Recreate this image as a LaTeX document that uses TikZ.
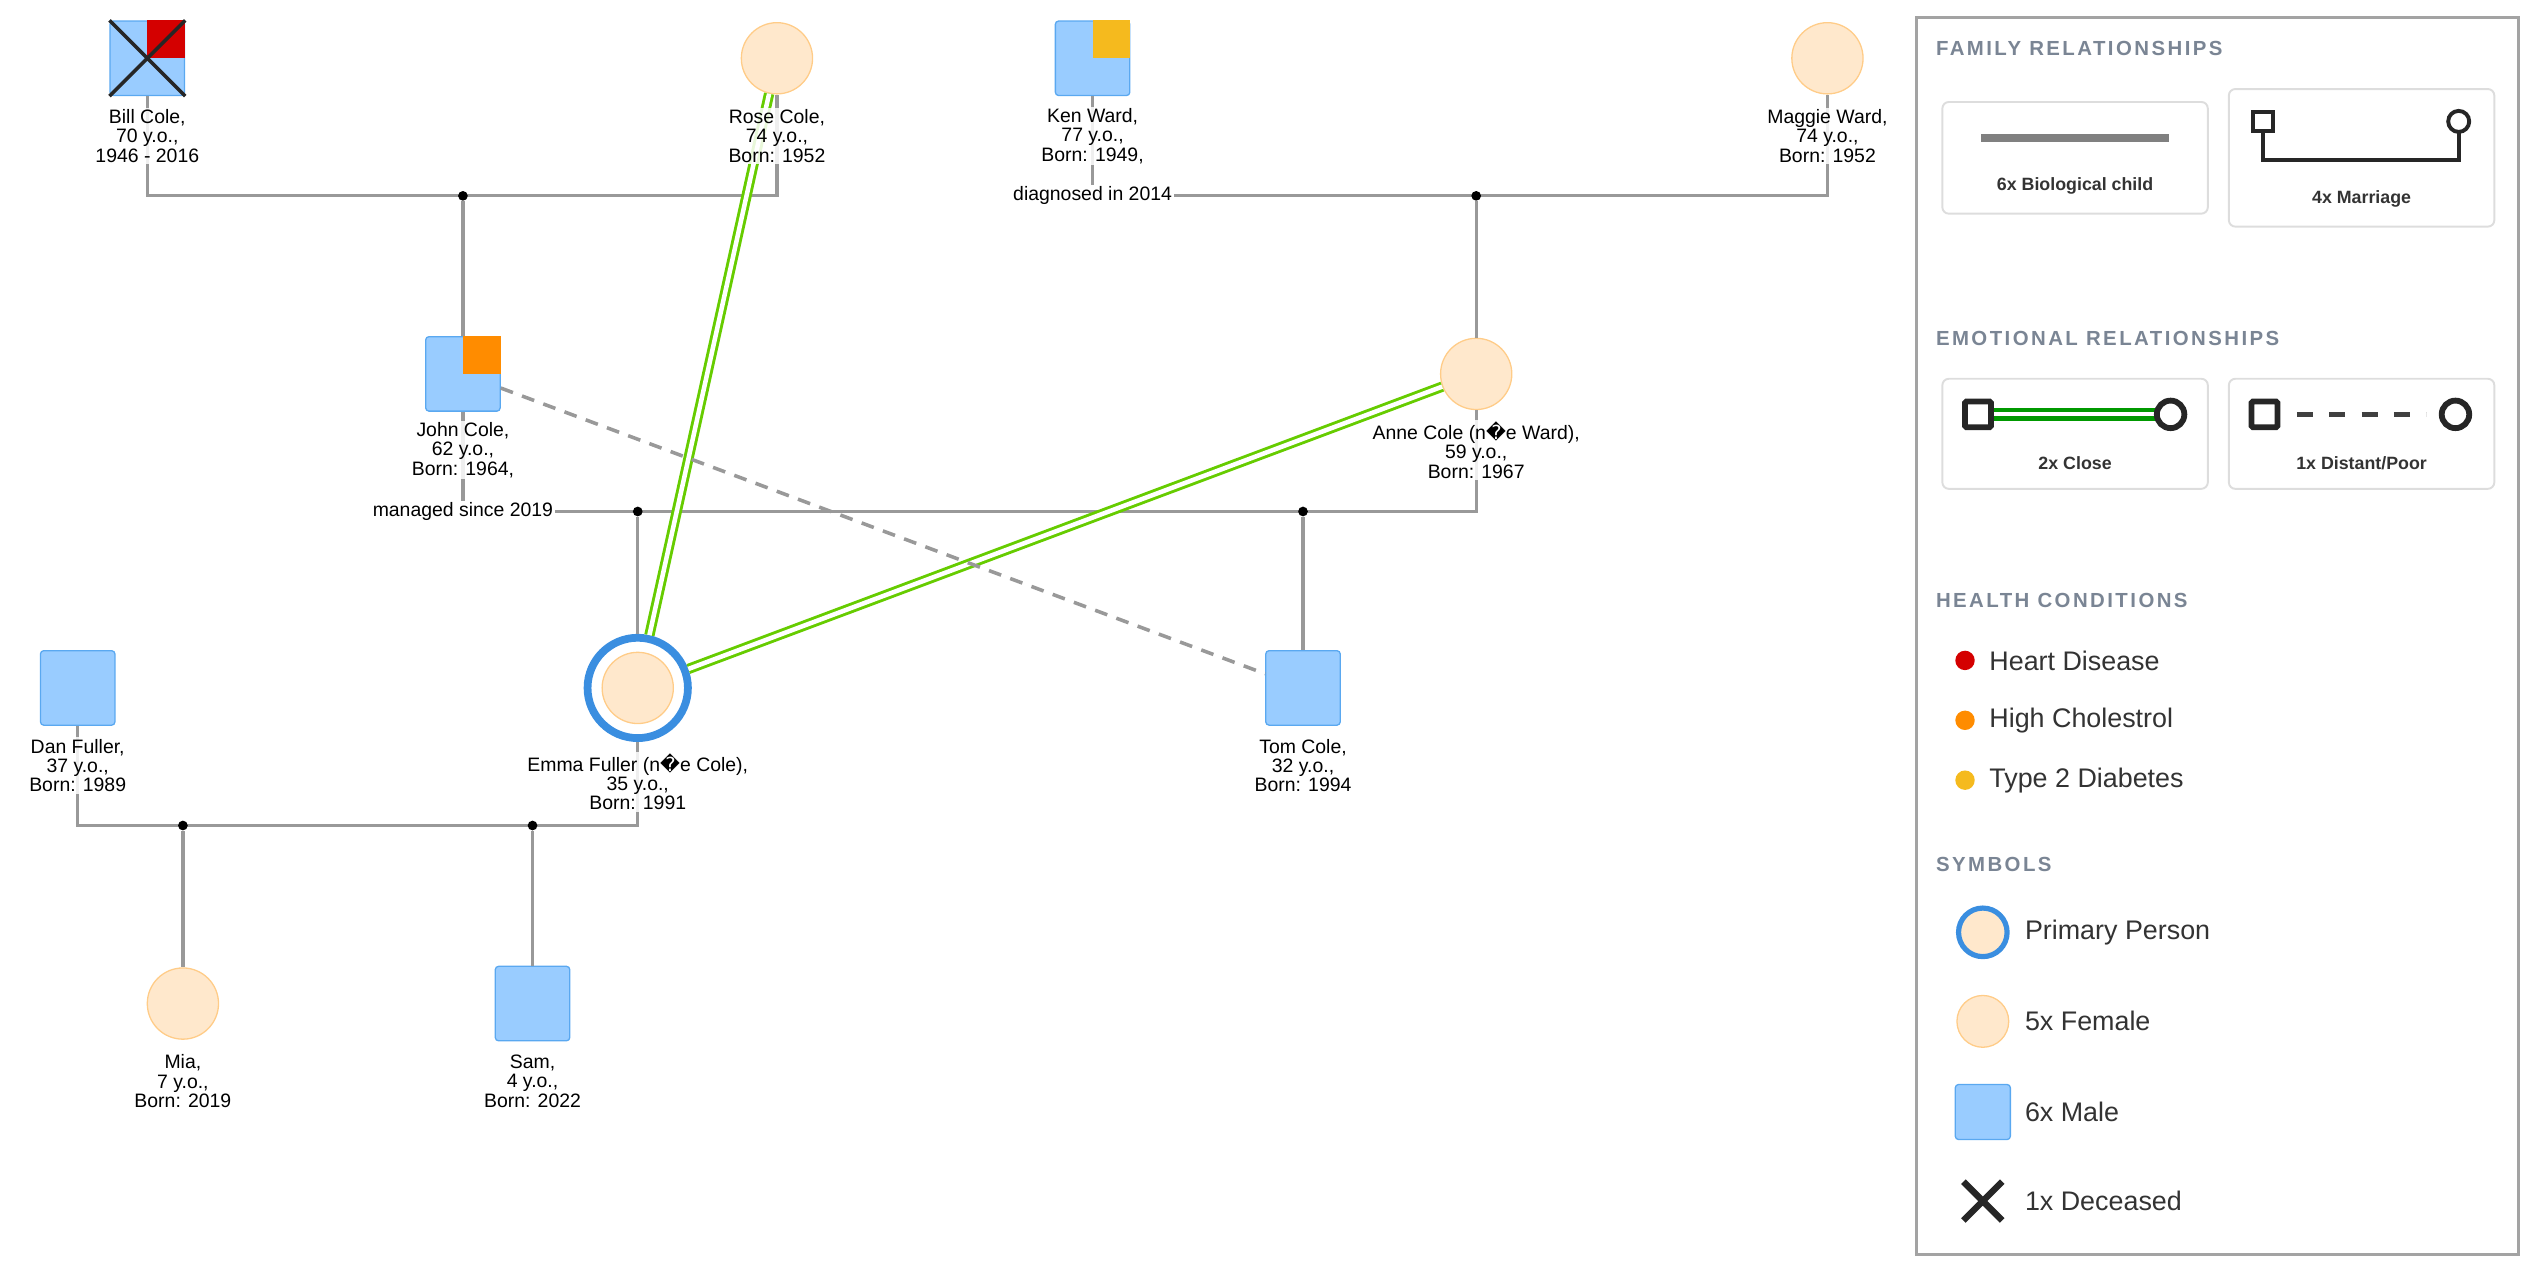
\documentclass[tikz,border=0pt]{standalone}
\usepackage{fontspec}
\setmainfont{Liberation Sans}
\newfontfamily\djv{DejaVu Sans}
\newfontfamily\hdrfont[LetterSpace=12]{Liberation Sans}
\definecolor{mblue}{HTML}{99CCFF}
\definecolor{mbord}{HTML}{5AA8F0}
\definecolor{fpeach}{HTML}{FFE8CC}
\definecolor{fbord}{HTML}{FFCC88}
\definecolor{lgray}{HTML}{999999}
\definecolor{cgreen}{HTML}{66CC00}
\definecolor{hdr}{HTML}{7A8594}
\definecolor{cardb}{HTML}{DDDDDD}
\definecolor{ring}{HTML}{3A8EE0}
\definecolor{hred}{HTML}{D40000}
\definecolor{horange}{HTML}{FF8C00}
\definecolor{hyellow}{HTML}{F5BA1E}
\begin{document}
\begin{tikzpicture}[x=0.5pt,y=-0.5pt,
  male/.style={draw=mbord,fill=mblue,minimum size=23pt,inner sep=0pt,rounded corners=1pt,line width=0.4pt},
  female/.style={circle,draw=fbord,fill=fpeach,minimum size=22pt,inner sep=0pt,line width=0.4pt},
  lbl/.style={align=center,font=\fontsize{6}{6}\selectfont,inner sep=0.5pt,fill=white,fill opacity=0.85,text opacity=1},
  marr/.style={draw=lgray,line width=1pt},
  dot/.style={circle,fill=black,inner sep=0pt,minimum size=3pt},
  close/.style={double=white,draw=cgreen,line width=0.9pt,double distance=1.4pt},
  card/.style={draw=cardb,rounded corners=2pt,line width=0.6pt},
  hd/.style={anchor=west,text=hdr,font=\hdrfont\fontsize{6.3}{6}\selectfont\bfseries},
  ct/.style={font=\fontsize{5.5}{6}\selectfont\bfseries,text=black!80},
  it/.style={anchor=west,font=\fontsize{8.3}{9}\selectfont,text=black!80}]
\useasboundingbox (0,0) rectangle (1568,788);
% people
\node[male] (bill) at (91,36) {};
\fill[hred] (bill.north) rectangle (bill.east);
\draw[black!85,line width=1.1pt] (bill.north west) -- (bill.south east) (bill.north east) -- (bill.south west);
\node[female] (rose) at (480,36) {};
\node[male] (ken) at (675,36) {};
\fill[hyellow] (ken.north) rectangle (ken.east);
\node[female] (maggie) at (1129,36) {};
\node[male] (john) at (286,231) {};
\fill[horange] (john.north) rectangle (john.east);
\node[female] (anne) at (912,231) {};
\node[female] (emma) at (394,425) {};
\node[circle,draw=ring,line width=2.4pt,minimum size=31pt,inner sep=0pt] (emmaring) at (394,425) {};
\node[male] (tom) at (805,425) {};
\node[male] (dan) at (48,425) {};
\node[female] (mia) at (113,620) {};
\node[male] (sam) at (329,620) {};
% marriage junctions
\coordinate (m1a) at (91,121); \coordinate (m1b) at (480,121);
\coordinate (m2a) at (675,121); \coordinate (m2b) at (1129,121);
\coordinate (m3a) at (286,316); \coordinate (m3b) at (912,316);
\coordinate (m4a) at (48,510); \coordinate (m4b) at (394,510);
\draw[marr] (bill) -- (m1a) -- (m1b) -- (rose);
\draw[marr] (ken) -- (m2a) -- (m2b) -- (maggie);
\draw[marr] (john) -- (m3a) -- (m3b) -- (anne);
\draw[marr] (dan) -- (m4a) -- (m4b) -- (emmaring);
\node[dot] (d1) at (286,121) {};
\node[dot] (d2) at (912,121) {};
\node[dot] (d3) at (394,316) {};
\node[dot] (d4) at (805,316) {};
\node[dot] (d5) at (113,510) {};
\node[dot] (d6) at (329,510) {};
\draw[marr] (d1) -- (john);
\draw[marr] (d2) -- (anne);
\draw[marr] (d3) -- (emmaring);
\draw[marr] (d4) -- (tom);
\draw[marr] (d5) -- (mia);
\draw[marr] (d6) -- (sam);
% emotional
\draw[close] (rose) -- (emmaring);
\draw[close] (anne) -- (emmaring);
\draw[lgray,line width=1.1pt,dash pattern=on 4pt off 3pt] (john) -- (tom);
% labels
\node[lbl] at (91,84) {Bill Cole,\\70 y.o.,\\1946 - 2016};
\node[lbl] at (480,84) {Rose Cole,\\74 y.o.,\\Born: 1952};
\node[lbl] at (675,84) {Ken Ward,\\77 y.o.,\\Born: 1949,};
\node[lbl,fill opacity=1] at (675,121) {diagnosed in 2014};
\node[lbl] at (1129,84) {Maggie Ward,\\74 y.o.,\\Born: 1952};
\node[lbl] at (286,278) {John Cole,\\62 y.o.,\\Born: 1964,};
\node[lbl,fill opacity=1] at (286,316) {managed since 2019};
\node[lbl] at (912,278) {Anne Cole (n{\djv\char"FFFD}e Ward),\\59 y.o.,\\Born: 1967};
\node[lbl] at (394,483) {Emma Fuller (n{\djv\char"FFFD}e Cole),\\35 y.o.,\\Born: 1991};
\node[lbl] at (805,473) {Tom Cole,\\32 y.o.,\\Born: 1994};
\node[lbl] at (48,473) {Dan Fuller,\\37 y.o.,\\Born: 1989};
\node[lbl] at (113,668) {Mia,\\7 y.o.,\\Born: 2019};
\node[lbl] at (329,668) {Sam,\\4 y.o.,\\Born: 2022};
% legend
\draw[lgray!90,line width=1pt] (1184,11) rectangle (1556,775);
\node[hd] at (1189,30) {FAMILY RELATIONSHIPS};
\draw[card] (1200,63) rectangle (1364,132);
\draw[gray,line width=2.5pt] (1224,85) -- (1340,85);
\node[ct] at (1282,115) {6x Biological child};
\draw[card] (1377,55) rectangle (1541,140);
\draw[black!85,line width=1.2pt] (1398,81) -- (1398,99) -- (1519,99) -- (1519,82);
\draw[black!85,line width=1.2pt,fill=white] (1392,69) rectangle (1404,81);
\draw[black!85,line width=1.2pt,fill=white] (1519,75) circle (6.5);
\node[ct] at (1459,123) {4x Marriage};
\node[hd] at (1189,209) {EMOTIONAL RELATIONSHIPS};
\draw[card] (1200,234) rectangle (1364,302);
\draw[double=white,draw=green!60!black,line width=1.3pt,double distance=1.2pt] (1230,256) -- (1332,256);
\draw[black!85,line width=1.8pt,fill=white,rounded corners=0.5pt] (1214,248) rectangle (1230,264);
\draw[black!85,line width=1.8pt,fill=white] (1341,256) circle (8.5);
\node[ct] at (1282,286) {2x Close};
\draw[card] (1377,234) rectangle (1541,302);
\draw[black!75,line width=1.6pt,dash pattern=on 5pt off 5pt] (1419,256) -- (1499,256);
\draw[black!85,line width=1.8pt,fill=white,rounded corners=0.5pt] (1391,248) rectangle (1407,264);
\draw[black!85,line width=1.8pt,fill=white] (1517,256) circle (8.5);
\node[ct] at (1459,286) {1x Distant/Poor};
\node[hd] at (1189,371) {HEALTH CONDITIONS};
\fill[hred] (1214,408) circle (6);
\node[it] at (1222,408) {Heart Disease};
\fill[horange] (1214,445) circle (6);
\node[it] at (1222,445) {High Cholestrol};
\fill[hyellow] (1214,482) circle (6);
\node[it] at (1222,482) {Type 2 Diabetes};
\node[hd] at (1189,534) {SYMBOLS};
\draw[ring,line width=1.6pt,fill=fpeach] (1225,576) circle (15);
\node[it] at (1244,576) {Primary Person};
\draw[fbord,line width=0.4pt,fill=fpeach] (1225,631) circle (16);
\node[it] at (1244,631) {5x Female};
\draw[mbord,line width=0.4pt,fill=mblue,rounded corners=1pt] (1208,670) rectangle (1242,704);
\node[it] at (1244,687) {6x Male};
\draw[black!85,line width=2pt] (1213,730) -- (1237,754) (1237,730) -- (1213,754);
\node[it] at (1244,742) {1x Deceased};
\end{tikzpicture}
\end{document}
